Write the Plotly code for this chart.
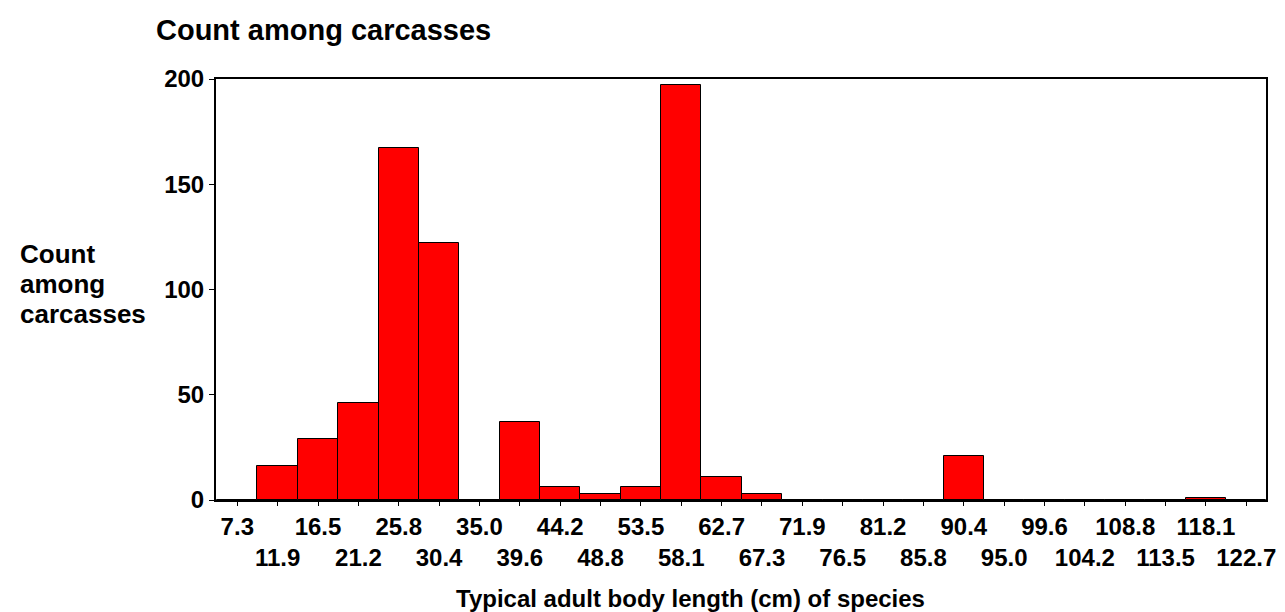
import plotly.graph_objects as go

# Bin labels (typical adult body length, cm) and counts among carcasses
bin_labels = ["7.3", "11.9", "16.5", "21.2", "25.8", "30.4", "35.0", "39.6", "44.2",
              "48.8", "53.5", "58.1", "62.7", "67.3", "71.9", "76.5", "81.2", "85.8",
              "90.4", "95.0", "99.6", "104.2", "108.8", "113.5", "118.1", "122.7"]
counts = [0, 16, 29, 46, 167, 122, 0, 37, 6, 3, 6, 197, 11, 3, 0, 0, 0, 0,
          21, 0, 0, 0, 0, 0, 1, 0]
y_ticks = [0, 50, 100, 150, 200]

FONT = "Liberation Sans, Arial, sans-serif"
W, H = 1285, 612
L, R, T, B = 208, 1258, 71, 492

positions = list(range(len(bin_labels)))
tick_text = [("<b>%s</b>" % t) if i % 2 == 0 else ("<br><b>%s</b>" % t)
             for i, t in enumerate(bin_labels)]

fig = go.Figure()
fig.add_trace(go.Bar(
    x=positions, y=counts, width=1,
    marker=dict(color="#FF0000", line=dict(color="black", width=1)),
    hoverinfo="x+y",
))

fig.update_layout(
    width=W, height=H,
    margin=dict(l=L, r=W - R, t=T, b=H - B, autoexpand=False),
    paper_bgcolor="white", plot_bgcolor="white",
    showlegend=False, bargap=0,
    font=dict(family=FONT, color="black"),
    title=dict(text="<b>Count among carcasses</b>", font=dict(size=29, family=FONT),
               x=148 / W, xanchor="left", xref="container",
               y=1 - 22 / H, yanchor="middle", yref="container"),
    xaxis=dict(range=[-0.528, 25.488], tickmode="array", tickvals=positions,
               ticktext=tick_text, tickangle=0, ticks="outside", ticklen=4, tickwidth=1,
               tickcolor="black", showline=True, linecolor="black", linewidth=2,
               mirror=True, showgrid=False, zeroline=False,
               tickfont=dict(size=24, family=FONT), automargin=False),
    yaxis=dict(range=[0, 200], tickmode="array", tickvals=y_ticks,
               ticktext=["<b>%d</b>" % v for v in y_ticks],
               ticks="outside", ticklen=5, tickwidth=1, tickcolor="black",
               showline=True, linecolor="black", linewidth=2, mirror=True,
               showgrid=False, zeroline=False,
               tickfont=dict(size=24, family=FONT), automargin=False),
)

ph = B - T
def py(y_px):
    return (B - y_px) / ph

def px(x_px):
    return (x_px - L) / (R - L)

# horizontal y-axis title, three lines
for txt, yc in [("Count", 246), ("among", 276), ("carcasses", 306)]:
    fig.add_annotation(text="<b>%s</b>" % txt, xref="paper", yref="paper",
                       x=px(11), y=py(yc), xanchor="left", yanchor="middle",
                       showarrow=False, borderpad=0,
                       font=dict(size=26, family=FONT, color="black"))

# x-axis title
fig.add_annotation(text="<b>Typical adult body length (cm) of species</b>",
                   xref="paper", yref="paper", x=px(682), y=py(590),
                   xanchor="center", yanchor="middle", showarrow=False,
                   borderpad=0, font=dict(size=24, family=FONT, color="black"))

fig.write_html("out.html")
